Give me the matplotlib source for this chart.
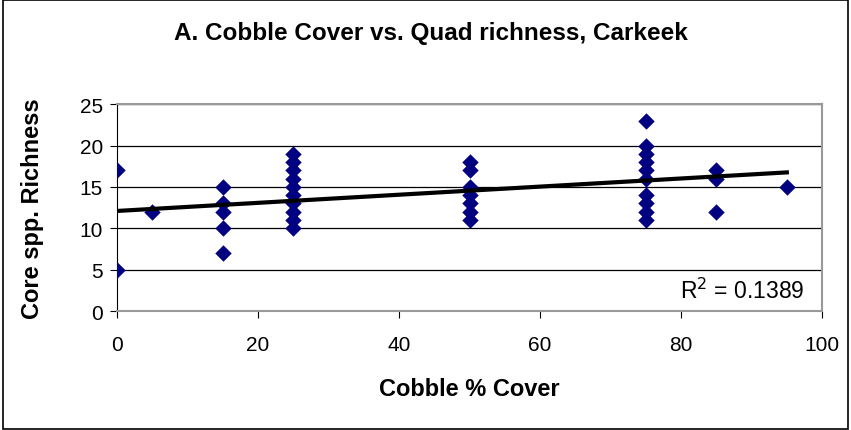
import matplotlib
matplotlib.use("Agg")
import matplotlib.pyplot as plt
import numpy as np

plt.rcParams["font.family"] = ["Liberation Sans", "DejaVu Sans"]

# Quadrat cobble cover (%) and core species richness
cover = [0, 0,
         5,
         15, 15, 15, 15, 15,
         25, 25, 25, 25, 25, 25, 25, 25, 25, 25,
         50, 50, 50, 50, 50, 50, 50,
         75, 75, 75, 75, 75, 75, 75, 75, 75, 75,
         85, 85, 85,
         95]
richness = [17, 5,
            12,
            15, 13, 12, 10, 7,
            19, 18, 17, 16, 15, 14, 13, 12, 11, 10,
            18, 17, 15, 14, 13, 12, 11,
            23, 20, 19, 18, 17, 16, 14, 13, 12, 11,
            17, 16, 12,
            15]
r_squared = 0.1389

x = np.array(cover, dtype=float)
y = np.array(richness, dtype=float)
slope, intercept = np.polyfit(x, y, 1)

fig = plt.figure(figsize=(8.51, 4.31), dpi=100)
ax = fig.add_axes([0.1375, 0.276, 0.8285, 0.48])

# outer chart border
fig.patches.append(plt.Rectangle((0.003, 0.003), 0.994, 0.994, transform=fig.transFigure,
                                 fill=False, edgecolor="black", linewidth=1.2))

for yv in [5, 10, 15, 20, 25]:
    ax.axhline(yv, color="black", linewidth=0.9, zorder=1)

ax.scatter(x, y, marker="D", s=70, color="#000080", zorder=3, linewidths=0)

# linear trendline
xfit = np.array([0, 95])
ax.plot(xfit, intercept + slope * xfit, color="black", linewidth=3, zorder=4)

ax.set_xlim(0, 100)
ax.set_ylim(0, 25)
ax.set_xticks([0, 20, 40, 60, 80, 100])
ax.set_yticks([0, 5, 10, 15, 20, 25])
ax.tick_params(labelsize=15, length=5, width=0.8, direction="out")
ax.tick_params(axis="x", pad=12)
ax.tick_params(axis="y", pad=5)

for side in ["top", "right", "bottom"]:
    ax.spines[side].set_color("#999999")
    ax.spines[side].set_linewidth(1.5)
ax.spines["left"].set_color("black")

ax.text(0.975, 0.1, f"R$^2$ = {r_squared:.4f}",
        transform=ax.transAxes, ha="right", va="center", fontsize=16.5)

fig.text(0.506, 0.922, "A. Cobble Cover vs. Quad richness, Carkeek",
         ha="center", va="center", fontsize=17.5, fontweight="bold")
ax.set_xlabel("Cobble % Cover", fontsize=17, fontweight="bold", labelpad=17)
ax.set_ylabel("Core spp. Richness", fontsize=17, fontweight="bold", labelpad=26)

plt.savefig("out.png", dpi=100)
